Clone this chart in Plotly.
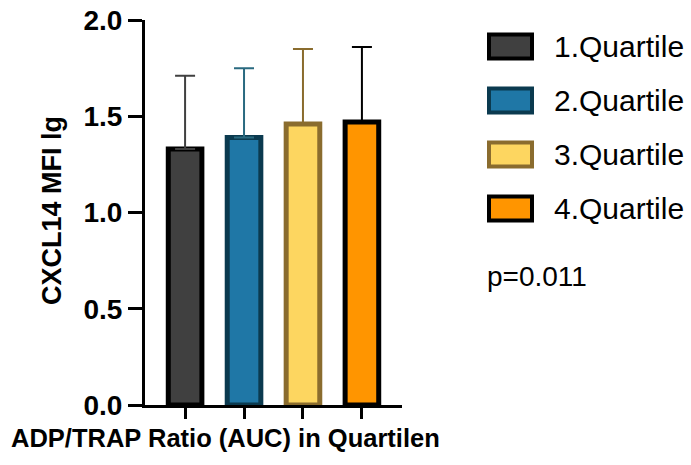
import plotly.graph_objects as go

# Data: CXCL14 MFI (lg) by ADP/TRAP ratio quartile, mean with upper SD
categories = ["1.Quartile", "2.Quartile", "3.Quartile", "4.Quartile"]
means = [1.33, 1.39, 1.46, 1.47]
sd_upper = [0.38, 0.36, 0.39, 0.39]
p_text = "p=0.011"
y_ticks = [0.0, 0.5, 1.0, 1.5, 2.0]

fills = ["#404040", "#1f77a6", "#fdd660", "#ff9500"]
borders = ["#000000", "#0b3a4f", "#8a6c2e", "#000000"]
err_colors = ["#404040", "#2a6a80", "#8a6c2e", "#000000"]

W, H = 691, 465
L, R, T, B = 145, 289, 20, 60
FONT = "Arial, Liberation Sans, sans-serif"


def px_x(x):
    return (x - L) / (W - L - R)


def px_y(y):
    return 1 - (y - T) / (H - T - B)


fig = go.Figure()
for i, name in enumerate(categories):
    fig.add_trace(go.Bar(
        x=[i], y=[means[i]], name=name, width=0.57,
        marker=dict(color=fills[i], line=dict(color=borders[i], width=5)),
        error_y=dict(type="data", symmetric=False, array=[sd_upper[i]],
                     arrayminus=[0], color=err_colors[i], thickness=2, width=10),
        showlegend=False,
    ))

shapes = []
annotations = []
# Legend boxes and labels
for i, name in enumerate(categories):
    cy = 46.5 + 54 * i
    shapes.append(dict(type="rect", xref="paper", yref="paper",
                       x0=px_x(489), x1=px_x(532), y0=px_y(cy + 12), y1=px_y(cy - 12),
                       fillcolor=fills[i], line=dict(color=borders[i], width=4)))
    annotations.append(dict(xref="paper", yref="paper", x=px_x(552), y=px_y(cy),
                            text=name, showarrow=False, xanchor="left", yanchor="middle",
                            font=dict(family=FONT, size=30, color="#000000")))

annotations.append(dict(xref="paper", yref="paper", x=px_x(485), y=px_y(276),
                        text=p_text, showarrow=False, xanchor="left", yanchor="middle",
                        font=dict(family=FONT, size=28, color="#000000")))
annotations.append(dict(xref="paper", yref="paper", x=px_x(225), y=px_y(438),
                        text="<b>ADP/TRAP Ratio (AUC) in Quartilen</b>", showarrow=False,
                        xanchor="center", yanchor="middle",
                        font=dict(family=FONT, size=25.5, color="#000000")))
annotations.append(dict(xref="paper", yref="paper", x=px_x(52), y=px_y(211),
                        text="<b>CXCL14 MFI lg</b>", showarrow=False, textangle=-90,
                        xanchor="center", yanchor="middle",
                        font=dict(family=FONT, size=27, color="#000000")))

fig.update_layout(
    width=W, height=H,
    margin=dict(l=L, r=R, t=T, b=B),
    paper_bgcolor="white", plot_bgcolor="white",
    barmode="overlay",
    shapes=shapes, annotations=annotations,
    xaxis=dict(range=[-0.68, 3.68], tickvals=[0, 1, 2, 3], showticklabels=False,
               ticks="outside", ticklen=11, tickwidth=3, tickcolor="black",
               showline=True, linecolor="black", linewidth=3,
               showgrid=False, zeroline=False, fixedrange=True, automargin=False),
    yaxis=dict(range=[0, 2.0], tickvals=y_ticks, ticktext=[f"{v:.1f}" for v in y_ticks],
               ticks="outside", ticklen=14, tickwidth=3, tickcolor="black",
               showline=True, linecolor="black", linewidth=3,
               showgrid=False, zeroline=False,
               tickfont=dict(family=FONT, size=28, color="black", weight="bold"),
               fixedrange=True, automargin=False),
    font=dict(family=FONT, color="black"),
)

fig.write_html("out.html")
